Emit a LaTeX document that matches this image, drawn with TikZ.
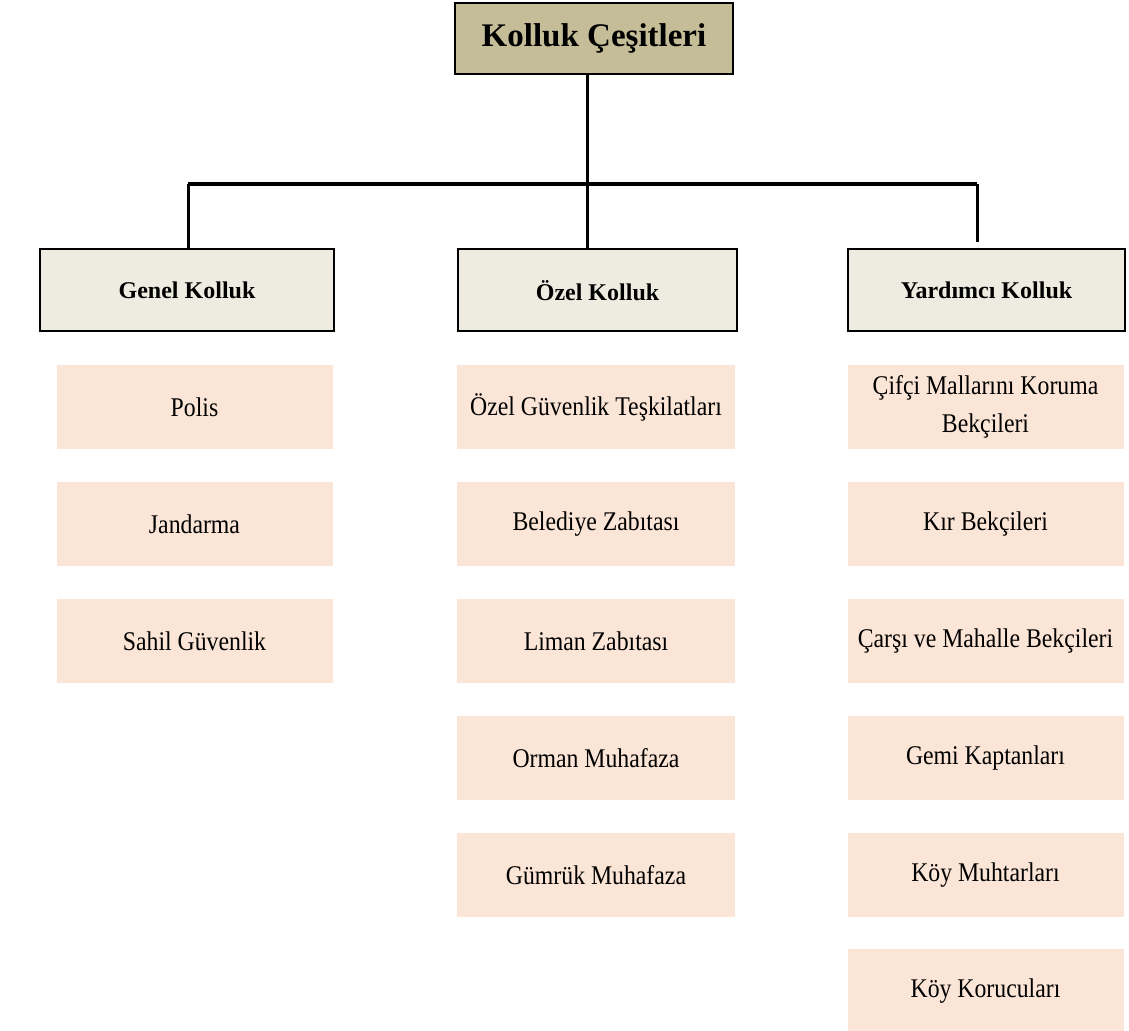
\documentclass[tikz,border=0pt]{standalone}
\usepackage{fontspec}
\setmainfont{Liberation Serif}
\newfontfamily\unitfont{Liberation Serif}[FakeStretch=0.88]
\usetikzlibrary{positioning}

\definecolor{titlefill}{HTML}{C4BD97}
\definecolor{typefill}{HTML}{EEECE1}
\definecolor{unitfill}{HTML}{FBE5D6}

\tikzset{
  titlebox/.style={draw,line width=1.3pt,fill=titlefill,minimum width=139pt,
    minimum height=35.5pt,font=\fontsize{16.5}{19}\selectfont\bfseries},
  typebox/.style={draw,line width=1pt,fill=typefill,minimum height=41pt,
    font=\fontsize{12}{14}\selectfont\bfseries},
  unitbox/.style={fill=unitfill,minimum width=138pt,minimum height=42pt,
    align=center,font=\unitfont\fontsize{13.5}{19}\selectfont},
  tree/.style={line width=1.5pt},
}

\begin{document}
\begin{tikzpicture}[x=0.5pt,y=-0.5pt]
\useasboundingbox (0,0) rectangle (1129,1031);

\node [titlebox] (kolluk) at (594,38.5) {Kolluk Çeşitleri};

\node [typebox,minimum width=147pt] (genel) at (187,290.5) {Genel Kolluk};
\node [typebox,minimum width=139.5pt] (ozel) at (597.5,290.5) {Özel Kolluk};
\node [typebox,minimum width=138.5pt] (yardimci) at (986.5,290.5) {Yardımcı Kolluk};

% tree lines
\coordinate (busL) at (188,184);
\coordinate (busM) at (587,184);
\coordinate (busR) at (977,184);
\draw [tree] (busM |- kolluk.south) -- (busM |- ozel.north);
\draw [tree,line width=2pt] (busL) -- (busR);
\draw [tree] (busL) -- (busL |- genel.north);
\draw [tree] (busR) -- ([yshift=3pt]busR |- yardimci.north);

% genel kolluk
\node [unitbox] (polis) at (194.5,407) {Polis};
\node [unitbox] (jandarma) at (194.5,524) {Jandarma};
\node [unitbox] (sahil) at (194.5,641) {Sahil Güvenlik};

% ozel kolluk
\node [unitbox,minimum width=139pt] (guvenlik) at (596,407) {Özel Güvenlik Teşkilatları};
\node [unitbox,minimum width=139pt] (belediye) at (596,524) {Belediye Zabıtası};
\node [unitbox,minimum width=139pt] (liman) at (596,641) {Liman Zabıtası};
\node [unitbox,minimum width=139pt] (orman) at (596,758) {Orman Muhafaza};
\node [unitbox,minimum width=139pt] (gumruk) at (596,875) {Gümrük Muhafaza};

% yardimci kolluk
\node [unitbox] (ciftci) at (985.5,407) {Çifçi Mallarını Koruma\\ Bekçileri};
\node [unitbox] (kir) at (985.5,524) {Kır Bekçileri};
\node [unitbox] (carsi) at (985.5,641) {Çarşı ve Mahalle Bekçileri};
\node [unitbox] (gemi) at (985.5,758) {Gemi Kaptanları};
\node [unitbox] (muhtar) at (985.5,875) {Köy Muhtarları};
\node [unitbox] (korucu) at (985.5,991) {Köy Korucuları};
\end{tikzpicture}
\end{document}
